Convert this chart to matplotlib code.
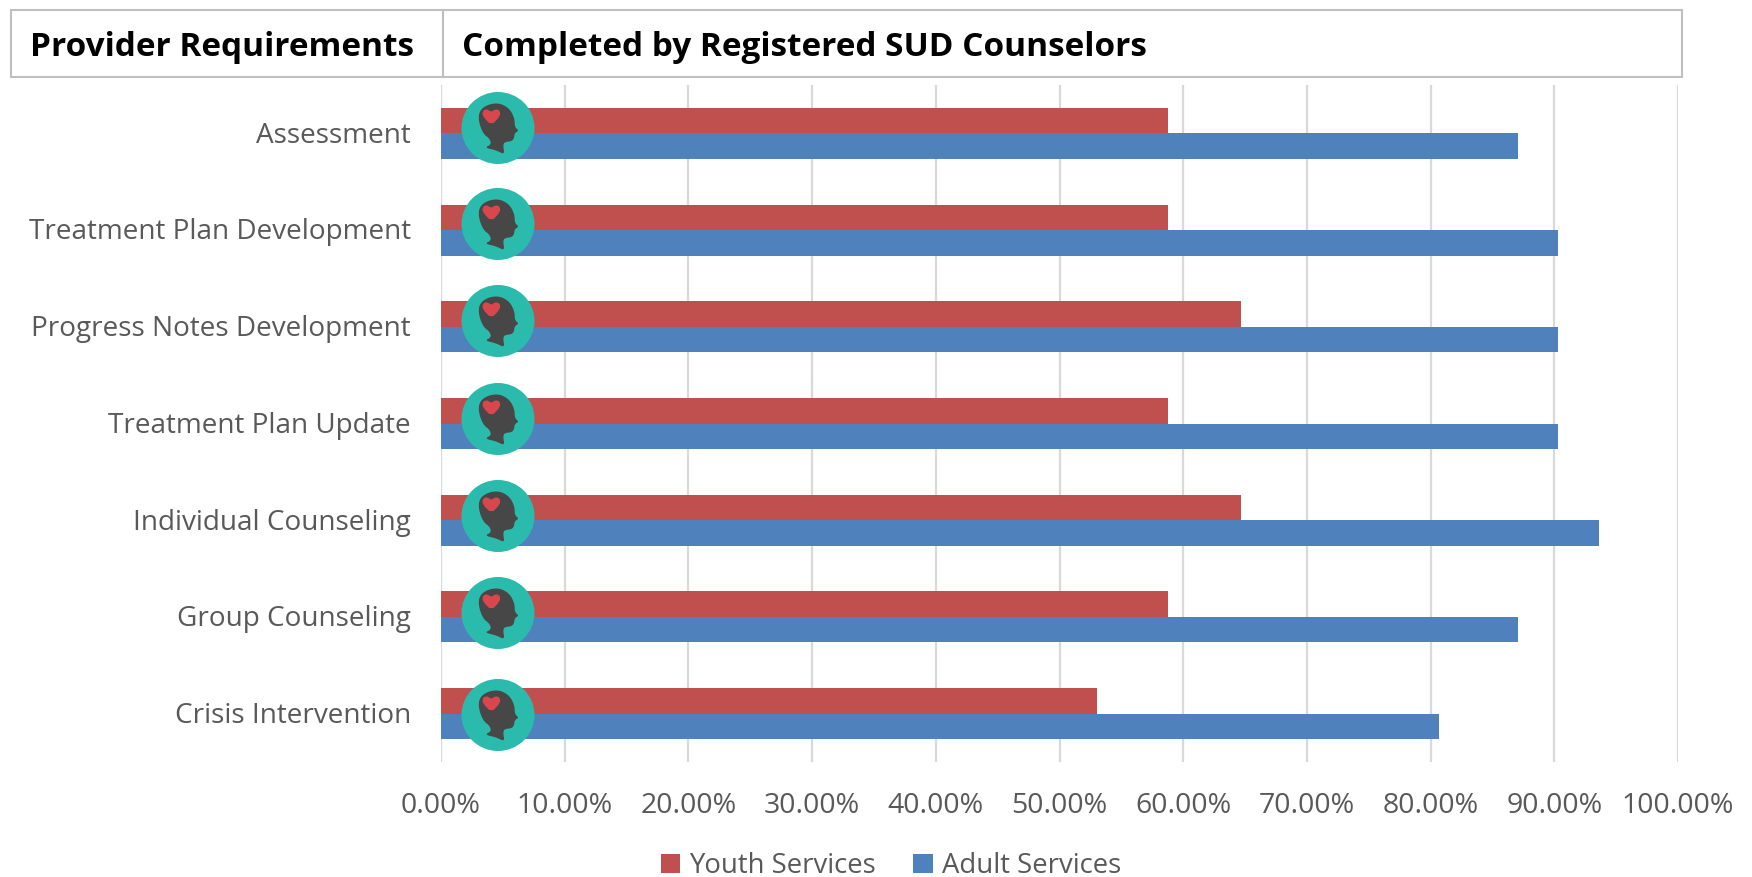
import numpy as np
from matplotlib import pyplot as plt
from matplotlib.patches import Ellipse, Polygon, Rectangle
from matplotlib.transforms import ScaledTranslation

W, H = 1752, 877

categories = ['Assessment', 'Treatment Plan Development', 'Progress Notes Development',
              'Treatment Plan Update', 'Individual Counseling', 'Group Counseling',
              'Crisis Intervention']
youth_values = [58.8, 58.8, 64.7, 58.8, 64.7, 58.8, 53.0]
adult_values = [87.1, 90.3, 90.3, 90.3, 93.6, 87.1, 80.7]
x_ticks = [0, 10, 20, 30, 40, 50, 60, 70, 80, 90, 100]

RED = '#C0504D'
BLUE = '#4F81BD'
GRAY = '#595959'
GRID = '#D9D9D9'
FONT = 'Open Sans'

plt.rcParams['font.family'] = FONT


def smooth(points, rounds=2):
    # corner cutting so the head outline is not so blocky
    pts = np.asarray(points, dtype=float)
    for _ in range(rounds):
        nxt = np.roll(pts, -1, axis=0)
        pts = np.column_stack([0.75 * pts + 0.25 * nxt, 0.25 * pts + 0.75 * nxt]).reshape(-1, 2)
    return pts


fig = plt.figure(figsize=(W / 100, H / 100), dpi=100, facecolor='white')

# main axes, placed by pixels
left, right, top, bottom = 441, 1678, 85, 762
ax = fig.add_axes([left / W, 1 - bottom / H, (right - left) / W, (bottom - top) / H])

y = np.arange(len(categories))
bar_h = 0.264
ax.barh(y - bar_h / 2, youth_values, bar_h, color=RED, label='Youth Services', zorder=3)
ax.barh(y + bar_h / 2, adult_values, bar_h, color=BLUE, label='Adult Services', zorder=3)

ax.set_xlim(0, 100)
ax.set_ylim(len(categories) - 0.5, -0.5)
ax.set_xticks(x_ticks)
ax.set_xticklabels(['%.2f%%' % t for t in x_ticks], fontsize=20.5, color=GRAY)
ax.set_yticks(y)
ax.set_yticklabels(categories, fontsize=20.1, color=GRAY)
ax.tick_params(axis='both', length=0)
ax.tick_params(axis='x', pad=21.5)
ax.tick_params(axis='y', pad=21.7)
# labels sit one pixel higher than the bar centre
nudge = ScaledTranslation(0, 1.2 / 100, fig.dpi_scale_trans)
for lab in ax.get_yticklabels():
    lab.set_transform(lab.get_transform() + nudge)
ax.grid(axis='x', color=GRID, linewidth=1.6, zorder=0)
ax.set_axisbelow(True)
for s in ax.spines.values():
    s.set_visible(False)

handles, labels = ax.get_legend_handles_labels()
fig.legend(handles, labels, loc='center', bbox_to_anchor=(891 / W, 1 - 866 / H), ncols=2,
           frameon=False, fontsize=19.8, labelcolor=GRAY, handlelength=0.72, handleheight=0.72,
           handletextpad=0.33, columnspacing=1.35)

# overlay in pixel coords for the header box and the icons
over = fig.add_axes([0, 0, 1, 1], zorder=5)
over.set_xlim(0, W)
over.set_ylim(H, 0)
over.axis('off')
over.patch.set_alpha(0)

over.add_patch(Rectangle((11, 9.5), 1671, 67.5, fill=False, edgecolor='#BFBFBF', linewidth=1.5))
over.plot([443, 443], [9.5, 77], color='#BFBFBF', linewidth=1.5)
over.text(30, 47, 'Provider Requirements', fontsize=24, fontweight='bold', color='black', va='center', ha='left')
over.text(462, 48, 'Completed by Registered SUD Counselors', fontsize=24, fontweight='bold', color='black', va='center', ha='left')

# head icon outline, pixels relative to the icon centre
head = smooth([(-40, 59), (-20, 49), (-25, 32), (-45, 17), (-59, -23), (-55, -53), (-30, -71),
               (5, -75), (35, -58), (50, -28), (50, -3), (63, 8), (50, 15), (48, 32),
               (40, 40), (20, 42), (15, 52), (20, 80), (-5, 67)]) / 3
heart = smooth([(-20, -8), (-46, -35), (-46, -52), (-33, -57), (-20, -48),
                (-7, -57), (6, -52), (6, -35)], rounds=1) / 3

icon_y = [128, 224, 321, 419, 516, 613, 715]
for cy in icon_y:
    cx = 498
    over.add_patch(Ellipse((cx, cy), 73, 72, facecolor='#2BBBAD', edgecolor='none'))
    over.add_patch(Polygon(head + [cx, cy], closed=True, facecolor='#474747', edgecolor='none'))
    over.add_patch(Polygon(heart + [cx, cy], closed=True, facecolor='#D8474E', edgecolor='none'))

fig.savefig('out.png', dpi=100)
